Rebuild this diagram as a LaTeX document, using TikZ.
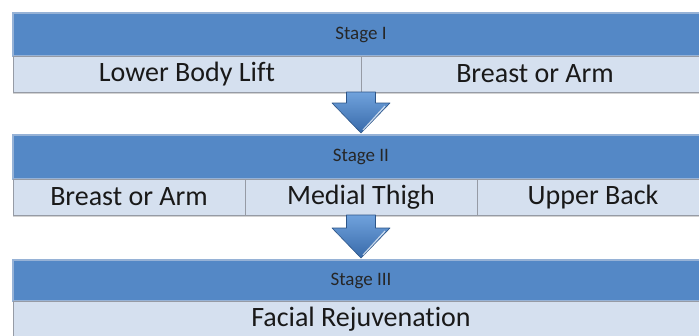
\documentclass[tikz,border=0pt]{standalone}
\usepackage{fontspec}
\setmainfont{Carlito}[Ligatures={NoCommon}]
\usetikzlibrary{shadows}
\definecolor{hdrblue}{RGB}{84,136,198}
\definecolor{hdrline}{RGB}{150,178,214}
\definecolor{cellfill}{RGB}{213,224,239}
\definecolor{cellline}{RGB}{150,155,165}
\definecolor{arrtop}{RGB}{112,162,220}
\definecolor{arrbot}{RGB}{56,106,170}

\begin{document}
\begin{tikzpicture}[x=1pt,y=-1pt,
  hdr/.style={draw=hdrline,fill=hdrblue,line width=1.2pt,rectangle,anchor=north west,
    minimum width=696pt,inner sep=0pt,outer sep=0pt},
  lbl/.style={font=\fontsize{19}{22}\selectfont,text=black!85},
  cell/.style={draw=cellline,fill=cellfill,line width=0.8pt,rectangle,anchor=north west,
    minimum height=36pt,inner sep=0pt,outer sep=0pt,font=\fontsize{28}{32}\selectfont,
    text=black!90,drop shadow={shadow xshift=0pt,shadow yshift=-1.5pt,opacity=0.35}},
  arr/.style={draw=arrbot!80!black,line width=0.6pt,line join=round,
    top color=arrtop,bottom color=arrbot},
  shine/.style={draw=white,line width=1.2pt,opacity=0.7}]
\clip (0,0) rectangle (699,335);
\fill[white] (0,0) rectangle (699,335);
% Stage I
\node[hdr,minimum height=43pt] (h1) at (13,13) {};
\node[lbl] (s1) at (361,34.5) {Stage I};
\node[cell,minimum width=348pt] (c11) at (13,56) {Lower Body Lift};
\node[cell,minimum width=348pt] (c12) at (361,56) {Breast or Arm};
% Stage II
\node[hdr,minimum height=44pt] (h2) at (13,135) {};
\node[lbl] (s2) at (361,157) {Stage II};
\node[cell,minimum width=232pt] (c21) at (13,179) {Breast or Arm};
\node[cell,minimum width=232pt] (c22) at (245,179) {Medial Thigh};
\node[cell,minimum width=232pt] (c23) at (477,179) {Upper Back};
% Stage III
\node[hdr,minimum height=41pt] (h3) at (13,260) {};
\node[lbl] (s3) at (361,280.5) {Stage III};
\node[cell,minimum width=696pt] (c31) at (13,301) {Facial Rejuvenation};
% arrows
\coordinate (a1) at (c11.south east);
\coordinate (a2) at (c22.south);
\path[arr] (a1) ++(-14.5,0) -- ++(29,0) -- ++(0,11) -- ++(14.5,0) -- ++(-29,30)
  -- ++(-29,-30) -- ++(14.5,0) -- cycle;
\draw[shine] (a1) ++(2,38) -- ++(22,-24);
\path[arr] (a2) ++(-14.5,0) -- ++(29,0) -- ++(0,13) -- ++(14.5,0) -- ++(-29,30)
  -- ++(-29,-30) -- ++(14.5,0) -- cycle;
\draw[shine] (a2) ++(2,40) -- ++(22,-24);
\end{tikzpicture}
\end{document}
